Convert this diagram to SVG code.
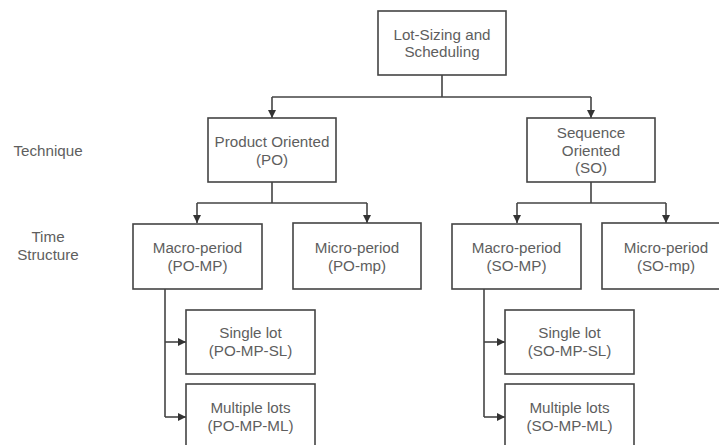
<svg xmlns="http://www.w3.org/2000/svg" width="719" height="445" viewBox="0 0 719 445">
  <defs>
    <marker id="arrow" markerWidth="10" markerHeight="10" refX="8" refY="4" orient="auto" markerUnits="userSpaceOnUse">
      <path d="M0,0 L8,4 L0,8 Z" fill="#333"/>
    </marker>
    <style>
      .box { fill: #fff; stroke: #444; stroke-width: 1.6; }
      .lbl { font-family: "Liberation Sans", Arial, sans-serif; font-size: 15.2px; fill: #5e5e5e; text-anchor: middle; }
      .edge { fill: none; stroke: #444; stroke-width: 1.6; }
      .arr { marker-end: url(#arrow); }
    </style>
  </defs>
  <rect width="719" height="445" fill="#fff"/>

  <!-- row captions -->
  <g id="caption-technique">
    <text class="lbl" x="48" y="156">Technique</text>
  </g>
  <g id="caption-time">
    <text class="lbl" x="48" y="242">Time</text>
    <text class="lbl" x="48" y="260">Structure</text>
  </g>

  <!-- connectors -->
  <g id="connectors">
    <path class="edge" d="M442,75 V97 M272,97 H591"/>
    <path class="edge arr" d="M272,97 V118"/>
    <path class="edge arr" d="M591,97 V118"/>

    <path class="edge" d="M272,182 V203 M197,203 H367"/>
    <path class="edge arr" d="M197,203 V223"/>
    <path class="edge arr" d="M367,203 V223"/>

    <path class="edge" d="M591,182 V203 M517,203 H666"/>
    <path class="edge arr" d="M517,203 V223"/>
    <path class="edge arr" d="M666,203 V223"/>

    <path class="edge" d="M165,289 V417"/>
    <path class="edge arr" d="M165,342 H186"/>
    <path class="edge arr" d="M165,417 H186"/>

    <path class="edge" d="M484,289 V417"/>
    <path class="edge arr" d="M484,342 H505"/>
    <path class="edge arr" d="M484,417 H505"/>
  </g>

  <!-- nodes -->
  <g id="root">
    <rect class="box" x="378" y="11" width="128" height="64"/>
    <text class="lbl" x="442" y="40">Lot-Sizing and</text>
    <text class="lbl" x="442" y="57">Scheduling</text>
  </g>

  <g id="po">
    <rect class="box" x="208" y="118" width="128" height="64"/>
    <text class="lbl" x="272" y="147">Product Oriented</text>
    <text class="lbl" x="272" y="165">(PO)</text>
  </g>

  <g id="so">
    <rect class="box" x="527" y="118" width="128" height="64"/>
    <text class="lbl" x="591" y="138">Sequence</text>
    <text class="lbl" x="591" y="155.5">Oriented</text>
    <text class="lbl" x="591" y="173">(SO)</text>
  </g>

  <g id="po-mp">
    <rect class="box" x="133" y="224" width="129" height="65"/>
    <text class="lbl" x="197.5" y="253">Macro-period</text>
    <text class="lbl" x="197.5" y="271">(PO-MP)</text>
  </g>

  <g id="po-mp-micro">
    <rect class="box" x="293" y="223" width="128" height="66"/>
    <text class="lbl" x="357" y="253">Micro-period</text>
    <text class="lbl" x="357" y="271">(PO-mp)</text>
  </g>

  <g id="so-mp">
    <rect class="box" x="452" y="224" width="129" height="65"/>
    <text class="lbl" x="516.5" y="253">Macro-period</text>
    <text class="lbl" x="516.5" y="271">(SO-MP)</text>
  </g>

  <g id="so-mp-micro">
    <rect class="box" x="602" y="223" width="128" height="66"/>
    <text class="lbl" x="666" y="253">Micro-period</text>
    <text class="lbl" x="666" y="271">(SO-mp)</text>
  </g>

  <g id="po-mp-sl">
    <rect class="box" x="186" y="310" width="129" height="64"/>
    <text class="lbl" x="250.5" y="338">Single lot</text>
    <text class="lbl" x="250.5" y="356">(PO-MP-SL)</text>
  </g>

  <g id="po-mp-ml">
    <rect class="box" x="186" y="384" width="129" height="66"/>
    <text class="lbl" x="250.5" y="413">Multiple lots</text>
    <text class="lbl" x="250.5" y="431">(PO-MP-ML)</text>
  </g>

  <g id="so-mp-sl">
    <rect class="box" x="505" y="310" width="129" height="64"/>
    <text class="lbl" x="569.5" y="338">Single lot</text>
    <text class="lbl" x="569.5" y="356">(SO-MP-SL)</text>
  </g>

  <g id="so-mp-ml">
    <rect class="box" x="505" y="384" width="129" height="66"/>
    <text class="lbl" x="569.5" y="413">Multiple lots</text>
    <text class="lbl" x="569.5" y="431">(SO-MP-ML)</text>
  </g>
</svg>
